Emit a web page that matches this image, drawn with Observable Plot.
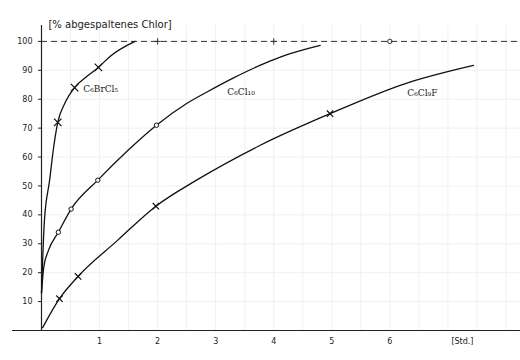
<!DOCTYPE html>
<html>
<head>
<meta charset="utf-8">
<script src="https://cdn.jsdelivr.net/npm/d3@7"></script>
<script src="https://cdn.jsdelivr.net/npm/@observablehq/plot@0.6"></script>
<style>
  html, body { margin: 0; padding: 0; background: #fff; }
  #chart { width: 520px; height: 360px; }
</style>
</head>
<body>
<div id="chart"></div>
<script>
// Curve sample points (hours, % split-off chlorine)
const brHours = [0, 0.05, 0.14, 0.2, 0.28, 0.4, 0.57, 0.79, 0.98, 1.18, 1.61];
const brPct   = [13, 38, 52, 62, 72, 78.5, 84, 88, 91, 94.8, 100];
const brMarkHours = [0.28, 0.57, 0.98];
const brMarkPct   = [72, 84, 91];

const cl10Hours = [0, 0.04, 0.12, 0.29, 0.51, 0.97, 1.5, 1.98, 2.5, 2.85, 3.3, 3.76, 4.1, 4.8];
const cl10Pct   = [13, 22, 27.7, 34, 42, 52, 62.5, 71, 78.5, 82.5, 87.3, 91.7, 94.5, 98.6];
const cl10MarkHours = [0.29, 0.51, 0.97, 1.98];
const cl10MarkPct   = [34, 42, 52, 71];

const fHours = [0.02, 0.31, 0.63, 1.3, 1.97, 2.67, 3.76, 4.97, 6.28, 7.44];
const fPct   = [1, 11, 18.7, 31, 43, 52, 64, 75, 85.5, 91.7];
const fMarkHours = [0.31, 0.63, 1.97, 4.97];
const fMarkPct   = [11, 18.7, 43, 75];

const limitHours = [2, 4, 6];
const limitSymbols = ["plus", "plus", "circle"];
const limitPct = 100;

const seriesNames = ["C₆BrCl₅", "C₆Cl₁₀", "C₆Cl₉F"];
const labelHours = [0.72, 3.2, 6.3];
const labelPct = [83.4, 82.4, 82];

const xTicks = [1, 2, 3, 4, 5, 6];
const yTicks = [10, 20, 30, 40, 50, 60, 70, 80, 90, 100];
const yTitle = "[% abgespaltenes Chlor]";
const xTitle = "[Std.]";

const zip = (xs, ys) => xs.map((x, i) => ({x, y: ys[i]}));
const gridX = d3.range(0.5, 8.25, 0.5);
const gridY = d3.range(10, 101, 10);

const plot = Plot.plot({
  width: 520,
  height: 360,
  marginLeft: 41,
  marginRight: 0,
  marginTop: 25,
  marginBottom: 30,
  x: {domain: [0, 8.25], label: null},
  y: {domain: [0, 105.5], label: null},
  style: {fontFamily: "DejaVu Sans", background: "#fff", color: "#222"},
  marks: [
    Plot.ruleX(gridX, {stroke: "#f0f0f0", strokeWidth: 1}),
    Plot.ruleY(gridY, {stroke: "#f0f0f0", strokeWidth: 1}),
    Plot.ruleY([limitPct], {x1: 0, x2: 8.25, stroke: "#333", strokeWidth: 1, strokeDasharray: "6,4"}),
    Plot.dot(limitHours.map((h, i) => ({x: h, y: limitPct, s: limitSymbols[i]})),
      {x: "x", y: "y", symbol: "s", r: 2.2, stroke: "#333", strokeWidth: 1, fill: "none"}),
    Plot.axisY({ticks: yTicks, tickSize: 3, tickPadding: 6, fontSize: 8, label: null, tickFormat: d => String(d)}),
    Plot.axisX({ticks: xTicks, tickSize: 0, tickPadding: 8, fontSize: 8, label: null, tickFormat: d => String(d)}),
    Plot.ruleX([0], {y1: 0, y2: 105.5, stroke: "#222", strokeWidth: 1.2}),
    Plot.ruleY([0], {x1: -0.5, x2: 8.25, stroke: "#222", strokeWidth: 1.2}),
    Plot.line(zip(brHours, brPct), {x: "x", y: "y", curve: "monotone-x", stroke: "#111", strokeWidth: 1.3}),
    Plot.line(zip(cl10Hours, cl10Pct), {x: "x", y: "y", curve: "monotone-x", stroke: "#111", strokeWidth: 1.3}),
    Plot.line(zip(fHours, fPct), {x: "x", y: "y", curve: "monotone-x", stroke: "#111", strokeWidth: 1.3}),
    Plot.dot(zip(brMarkHours, brMarkPct), {x: "x", y: "y", symbol: "times", r: 3.5, stroke: "#111", strokeWidth: 1.2}),
    Plot.dot(zip(cl10MarkHours, cl10MarkPct), {x: "x", y: "y", symbol: "circle", r: 2.2, stroke: "#111", strokeWidth: 1, fill: "white"}),
    Plot.dot(zip(fMarkHours, fMarkPct), {x: "x", y: "y", symbol: "times", r: 3, stroke: "#111", strokeWidth: 1.2}),
    Plot.text(seriesNames.map((n, i) => ({n, x: labelHours[i], y: labelPct[i]})),
      {x: "x", y: "y", text: "n", textAnchor: "start", fontSize: 9, fontFamily: "DejaVu Serif", fill: "#222"}),
    Plot.text([yTitle], {x: 0.12, y: 105.5, text: d => d, textAnchor: "start", fontSize: 10, fill: "#222", dy: -1}),
    Plot.text([xTitle], {x: 7.25, y: -3.8, text: d => d, textAnchor: "middle", fontSize: 8, fill: "#222"})
  ]
});
document.getElementById("chart").appendChild(plot);
</script>
</body>
</html>
